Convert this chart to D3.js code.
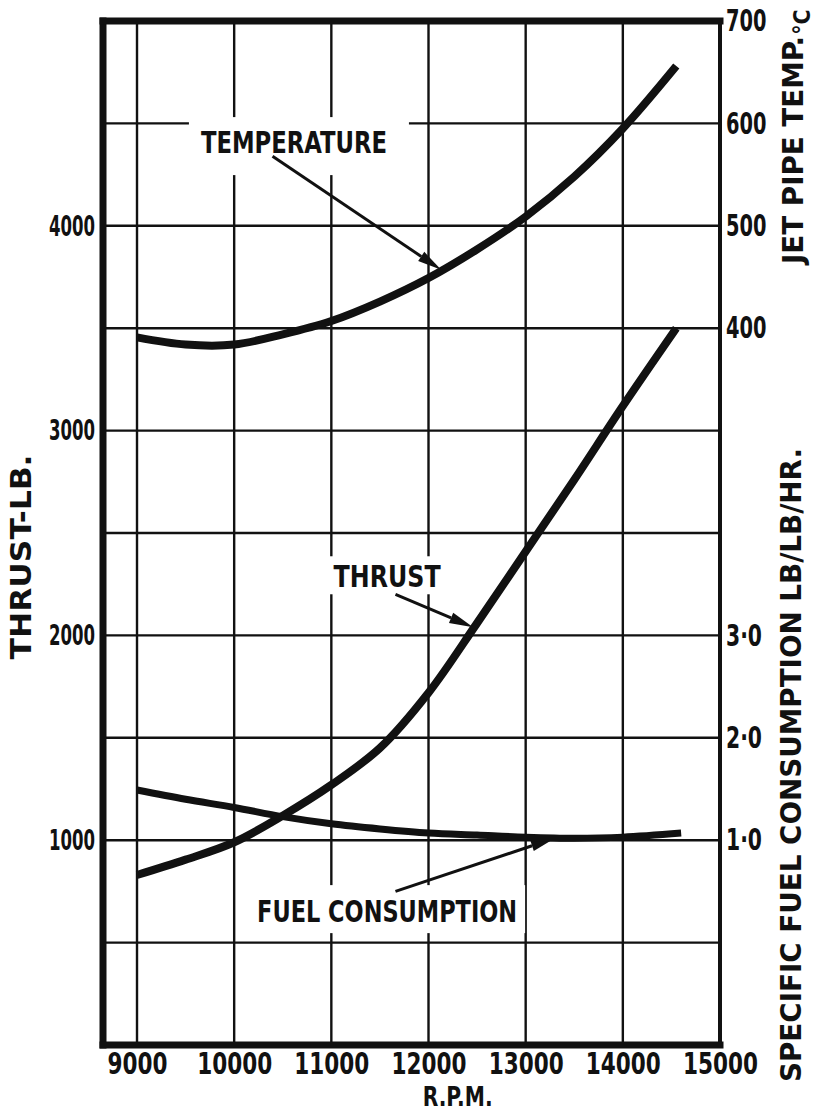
<!DOCTYPE html>
<html>
<head>
<meta charset="utf-8">
<script src="https://cdn.jsdelivr.net/npm/d3@7"></script>
<style>
  body { margin: 0; background: #fff; }
  svg text { font-family: "DejaVu Sans", "Liberation Sans", Arial, sans-serif; font-stretch: condensed; font-weight: bold; fill: #111; }
</style>
</head>
<body>
<svg id="chart" width="815" height="1111"></svg>
<script>
// ---- data -------------------------------------------------------------
const rpmTicks = [9000, 10000, 11000, 12000, 13000, 14000, 15000];
const rpmGrid = [9000, 10000, 11000, 12000, 13000, 14000];
const thrustTicks = [1000, 2000, 3000, 4000];
const thrustGrid = [500, 1000, 1500, 2000, 2500, 3000, 3500, 4000, 4500];
const tempTicks = [400, 500, 600, 700];
const sfcTicks = [1, 2, 3];

const tempRpm = [9000, 9500, 10000, 10500, 11000, 11500, 12000, 12500, 13000, 13500, 14000, 14550];
const tempC   = [391, 384, 384, 394, 407, 426, 449, 477, 509, 548, 595, 656];

const thrustRpm = [9000, 9500, 10000, 10500, 11000, 11500, 12000, 12500, 13000, 13500, 14000, 14550];
const thrustLb  = [830, 905, 990, 1120, 1270, 1450, 1720, 2060, 2410, 2760, 3120, 3500];

const sfcRpm = [9000, 9500, 10000, 10500, 11000, 11500, 12000, 12500, 13000, 13500, 14000, 14600];
const sfcVal = [1.49, 1.40, 1.32, 1.23, 1.16, 1.11, 1.07, 1.05, 1.03, 1.02, 1.03, 1.07];

// ---- layout -----------------------------------------------------------
const svg = d3.select("#chart");
const x = d3.scaleLinear().domain([8650, 15000]).range([103, 720]);
const y = d3.scaleLinear().domain([0, 5000]).range([1045, 21]);
// right-hand scales share the thrust grid: 400 degC at 3500 lb, 1.0 sfc at 1000 lb
const yTemp = d3.scaleLinear().domain([-300, 700]).range(y.range());
const ySfc = d3.scaleLinear().domain([-1, 9]).range(y.range());

const [x0, x1] = x.range();
const [yb, yt] = y.range();

// grid
const grid = svg.append("g").attr("stroke", "#111").attr("stroke-width", 2.4);
grid.selectAll(".v").data(rpmGrid).join("line")
  .attr("x1", d => x(d)).attr("x2", d => x(d)).attr("y1", yt).attr("y2", yb);
grid.selectAll(".h").data(thrustGrid).join("line")
  .attr("x1", x0).attr("x2", x1).attr("y1", d => y(d)).attr("y2", d => y(d));

// annotation labels (white patches interrupt the grid)
const annotations = [
  { text: "TEMPERATURE", len: 186, at: [10615, yTemp(571)], from: [10395, yTemp(568)], to: [12130, yTemp(457)], pad: [12, 22, 13, 21] },
  { text: "THRUST", len: 107, at: [11574, y(2235)], from: [11660, y(2200)], to: [12460, y(2040)], pad: [6, 6, 8, 6] },
  { text: "FUEL CONSUMPTION", len: 260, at: [11574, ySfc(0.2)], from: [11660, ySfc(0.5)], to: [13300, ySfc(1.02)], pad: [10, 8, 14, 10] }
];
const annG = svg.append("g");
annotations.forEach(a => {
  const g = annG.append("g");
  const t = g.append("text")
    .attr("x", x(a.at[0])).attr("y", a.at[1])
    .attr("text-anchor", "middle")
    .attr("font-size", 31)
    .attr("textLength", a.len).attr("lengthAdjust", "spacingAndGlyphs")
    .text(a.text);
  const bb = t.node().getBBox();
  g.insert("rect", "text")
    .attr("x", bb.x - a.pad[0]).attr("y", bb.y - a.pad[2] + 6)
    .attr("width", bb.width + a.pad[0] + a.pad[1])
    .attr("height", bb.height + a.pad[2] + a.pad[3] - 12)
    .attr("fill", "#fff");
});

// frame
const frame = svg.append("g").attr("stroke", "#111").attr("stroke-linecap", "square");
frame.append("line").attr("x1", x0).attr("x2", x0).attr("y1", yt).attr("y2", yb).attr("stroke-width", 7);
frame.append("line").attr("x1", x0).attr("x2", x1).attr("y1", yt).attr("y2", yt).attr("stroke-width", 7);
frame.append("line").attr("x1", x0).attr("x2", x1).attr("y1", yb).attr("y2", yb).attr("stroke-width", 7);
frame.append("line").attr("x1", x1).attr("x2", x1).attr("y1", yt).attr("y2", yb).attr("stroke-width", 4);

// curves
const curve = d3.curveCatmullRom.alpha(0.5);
const series = [
  { xs: tempRpm, ys: tempC, sc: yTemp, w: 8 },
  { xs: thrustRpm, ys: thrustLb, sc: y, w: 8 },
  { xs: sfcRpm, ys: sfcVal, sc: ySfc, w: 7 }
];
series.forEach(s => {
  const line = d3.line().x((d, i) => x(s.xs[i])).y(d => s.sc(d)).curve(curve);
  svg.append("path").attr("d", line(s.ys))
    .attr("fill", "none").attr("stroke", "#111")
    .attr("stroke-width", s.w).attr("stroke-linecap", "butt");
});

// arrows from the labels to the curves
annotations.forEach(a => {
  const sx = x(a.from[0]), sy = a.from[1];
  const tx = x(a.to[0]), ty = a.to[1];
  const ang = Math.atan2(ty - sy, tx - sx);
  const L = 24, W = 5.5;
  const bx = tx - L * Math.cos(ang), by = ty - L * Math.sin(ang);
  annG.append("line").attr("x1", sx).attr("y1", sy).attr("x2", bx).attr("y2", by)
    .attr("stroke", "#111").attr("stroke-width", 3);
  annG.append("path")
    .attr("d", `M${tx},${ty}L${bx - W * Math.sin(ang)},${by + W * Math.cos(ang)}L${bx + W * Math.sin(ang)},${by - W * Math.cos(ang)}Z`)
    .attr("fill", "#111");
});

// axes
function styleTicks(g, size, perChar) {
  g.select(".domain").remove();
  g.selectAll("line").remove();
  g.attr("font-family", null).attr("font-size", null);
  g.selectAll("text")
    .attr("font-size", size)
    .attr("fill", "#111")
    .each(function () {
      const n = this.textContent.length;
      d3.select(this).attr("textLength", n * perChar).attr("lengthAdjust", "spacingAndGlyphs");
    });
}

svg.append("g").attr("transform", `translate(0,${yb})`)
  .call(d3.axisBottom(x).tickValues(rpmTicks).tickSize(0).tickPadding(8).tickFormat(d3.format("d")))
  .call(g => styleTicks(g, 30, 15));

svg.append("g").attr("transform", `translate(${x0},0)`)
  .call(d3.axisLeft(y).tickValues(thrustTicks).tickSize(0).tickPadding(8).tickFormat(d3.format("d")))
  .call(g => styleTicks(g, 29, 11.5));

svg.append("g").attr("transform", `translate(${x1},0)`)
  .call(d3.axisRight(yTemp).tickValues(tempTicks).tickSize(0).tickPadding(6).tickFormat(d3.format("d")))
  .call(g => styleTicks(g, 30, 13.5));

svg.append("g").attr("transform", `translate(${x1},0)`)
  .call(d3.axisRight(ySfc).tickValues(sfcTicks).tickSize(0).tickPadding(6).tickFormat(d => d.toFixed(1).replace(".", "\u00b7")))
  .call(g => styleTicks(g, 30, 12));

// axis titles
svg.append("text").attr("x", x(12300)).attr("y", 1106)
  .attr("text-anchor", "middle").attr("font-size", 27)
  .attr("textLength", 70).attr("lengthAdjust", "spacingAndGlyphs").text("R.P.M.");

svg.append("text").attr("transform", "translate(31,557) rotate(-90)")
  .attr("text-anchor", "middle").attr("font-size", 28)
  .attr("textLength", 205).attr("lengthAdjust", "spacingAndGlyphs").text("THRUST-LB.");

svg.append("text").attr("transform", "translate(803,150) rotate(-90)")
  .attr("text-anchor", "middle").attr("font-size", 29)
  .attr("textLength", 228).attr("lengthAdjust", "spacingAndGlyphs").text("JET PIPE TEMP.");

svg.append("text").attr("transform", "translate(810,22) rotate(-90)")
  .attr("text-anchor", "middle").attr("font-size", 23).text("\u00b0C");

svg.append("text").attr("transform", "translate(801,765) rotate(-90)")
  .attr("text-anchor", "middle").attr("font-size", 28)
  .attr("textLength", 634).attr("lengthAdjust", "spacingAndGlyphs").text("SPECIFIC  FUEL  CONSUMPTION  LB/LB/HR.");
</script>
</body>
</html>
